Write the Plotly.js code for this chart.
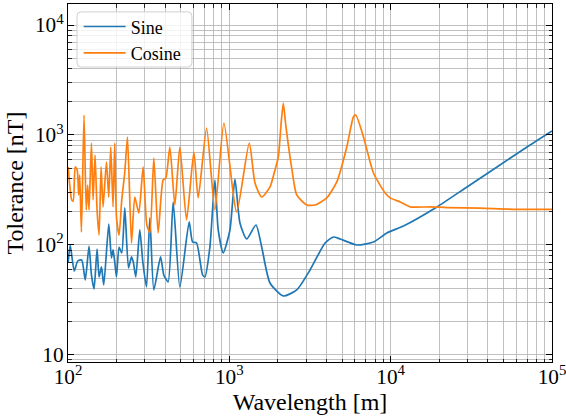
<!DOCTYPE html>
<html>
<head>
<meta charset="utf-8">
<script src="https://cdn.plot.ly/plotly-3.0.1.min.js"></script>
<style>html,body{margin:0;padding:0;background:#fff;}#chart{width:566px;height:419px;}</style>
</head>
<body>
<div id="chart"></div>
<script>
const seriesNames = ["Sine", "Cosine"];

const wavelengthSine = [100.3,103.2,109.3,114.9,121.6,127.9,135.0,139.7,145.0,151.4,155.8,161.2,166.6,178.9,185.9,190.2,194.9,199.7,207.3,215.4,224.9,237.1,247.5,253.9,263.2,278.6,290.9,306.7,321.5,340.4,374.6,392.6,417.6,448.5,493.5,563.7,591.8,626.6,682.8,705.6,757.8,814.0,853.3,916.5,1008.6,1083.2,1163.4,1280.5,1462.4,1586.7,1786.5,2160.4,2616.3,3163.8,3921.4,4415.9,4859.3,6167.1,7823.6,9470.6,12007,19352,29714,45615,70016,100000];
const toleranceSine = [70.0,100,58.0,71.5,73.1,48.1,97.9,53.4,39.8,91.9,51.2,63.1,43.3,155.2,76.2,90.1,70.0,51.2,95.9,84.6,217.0,61.8,77.8,70.0,51.2,136.9,70.0,41.5,176.0,39.0,77.8,53.4,46.1,246.0,41.5,161.9,106.5,104.3,53.4,51.2,95.9,389.9,136.9,84.6,136.9,398.1,158.5,113.4,152.0,95.9,45.1,34.4,39.0,59.3,104.3,118.2,113.4,100,106.5,128.6,148.8,221.6,336.8,511.9,778.0,1087];

const wavelengthCosine = [100.3,102.5,105.4,107.7,110.8,114.0,116.5,118.2,121.1,125.7,129.7,132.5,135.0,139.7,143.0,147.1,151.4,155.8,160.3,164.9,173.1,178.9,184.1,190.2,194.9,199.7,207.3,215.4,224.9,233.7,247.5,259.4,274.8,292.1,308.0,321.5,340.4,361.9,388.7,404.1,427.9,459.5,493.5,543.0,602.9,641.1,722.8,814.0,925.8,1110,1329,1442,1587,1787,1919,2012,2090,2160,2230,2321,2446,2616,3019,3399,4017,4634,5346,5875,6079,6777,7824,9243,9927,11456,13210,17586,22325,35941,57834,100000];
const toleranceCosine = [512,351,257,251,512,481,285,433,131,1520,208,351,208,846,257,658,208,123,512,222,568,273,778,222,846,180,123,257,461,959,104,273,195,512,152,129,618,129,390,407,778,231,778,169,700,268,1157,208,1286,200,846,366,273,337,481,631,1233,1953,1286,811,481,285,231,231,268,374,778,1458,1520,965,451,297,268,246,222,222,219,216,211,211];

const xTitle = "Wavelength [m]";
const yTitle = "Tolerance [nT]";

const FONT = "Liberation Serif, Times New Roman, serif";
const gridColor = "#b0b0b0";

const traces = [
  {x: wavelengthSine, y: toleranceSine, name: seriesNames[0], type: "scatter", mode: "lines",
   line: {color: "#1f77b4", width: 1.7, shape: "spline", smoothing: 0.6}},
  {x: wavelengthCosine, y: toleranceCosine, name: seriesNames[1], type: "scatter", mode: "lines",
   line: {color: "#ff7f0e", width: 1.7, shape: "spline", smoothing: 0.6}}
];

function axisCommon() {
  return {
    type: "log", dtick: 1, exponentformat: "power",
    showline: true, linecolor: "#000", linewidth: 1, mirror: "allticks",
    ticks: "inside", ticklen: 6, tickwidth: 1, tickcolor: "#000",
    showgrid: true, gridcolor: gridColor, gridwidth: 0.8,
    zeroline: false, ticklabeloverflow: "allow",
    tickfont: {family: FONT, size: 17, color: "#000"},
    minor: {ticks: "inside", ticklen: 3.5, tickwidth: 0.8, tickcolor: "#000",
            showgrid: true, gridcolor: gridColor, gridwidth: 0.8, dtick: "D1"}
  };
}

const xaxis = Object.assign(axisCommon(), {
  range: [1.99999, 5.00001], ticklabelstandoff: -4,
  title: {text: xTitle, font: {family: FONT, size: 24, color: "#000"}, standoff: 0}
});
const yaxis = Object.assign(axisCommon(), {
  range: [0.936, 4.191],
  title: {text: yTitle, font: {family: FONT, size: 24, color: "#000"}, standoff: 4}
});

// rounded legend frame (paper coords)
const lx0 = 0.0186, lx1 = 0.256, ly1 = 0.978, ly0 = 0.824;
const rx = 4/484, ry = 4/358;
const framePath = `M ${lx0+rx},${ly1} L ${lx1-rx},${ly1} Q ${lx1},${ly1} ${lx1},${ly1-ry} L ${lx1},${ly0+ry} Q ${lx1},${ly0} ${lx1-rx},${ly0} L ${lx0+rx},${ly0} Q ${lx0},${ly0} ${lx0},${ly0+ry} L ${lx0},${ly1-ry} Q ${lx0},${ly1} ${lx0+rx},${ly1} Z`;

const layout = {
  width: 566, height: 419,
  margin: {l: 68, r: 14, t: 4, b: 57},
  paper_bgcolor: "#fff", plot_bgcolor: "#fff",
  font: {family: FONT, color: "#000"},
  xaxis: xaxis, yaxis: yaxis,
  showlegend: true,
  legend: {x: 0.022, y: 0.988, xanchor: "left", yanchor: "top",
           bgcolor: "rgba(0,0,0,0)", borderwidth: 0, itemwidth: 42,
           font: {family: FONT, size: 18, color: "#000"}},
  shapes: [{type: "path", xref: "paper", yref: "paper", path: framePath,
            fillcolor: "rgba(255,255,255,0.8)", line: {color: "#d0d0d0", width: 1}, layer: "above"}]
};

Plotly.newPlot("chart", traces, layout, {staticPlot: true, displayModeBar: false});
</script>
</body>
</html>
